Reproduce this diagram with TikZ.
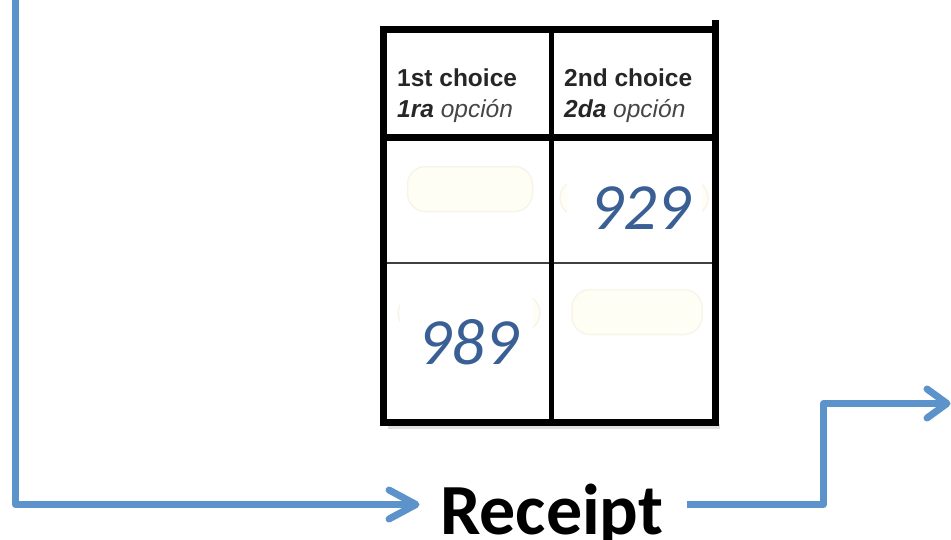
\documentclass[tikz,border=0pt]{standalone}
\usepackage{fontspec}
\setmainfont{Liberation Sans}
\newfontfamily\calib{Carlito}
\usetikzlibrary{arrows.meta}
\definecolor{flowblue}{RGB}{92,147,203}
\definecolor{numblue}{RGB}{58,95,148}
\definecolor{ghostfill}{RGB}{255,254,244}
\definecolor{ghostedge}{RGB}{247,245,234}
\definecolor{optgray}{RGB}{70,70,70}
\tikzset{
  flow/.style={draw=flowblue, line width=7pt, line join=round},
  chevron/.style={draw=flowblue, line width=7pt, line cap=round, line join=round},
  border/.style={draw=black, line width=7pt},
  thinrule/.style={draw=black!75, line width=2.5pt},
  midrule/.style={draw=black, line width=5pt},
  ghost/.style={draw=ghostedge, fill=ghostfill, line width=1.5pt, rounded corners=18pt},
  head/.style={anchor=base west, inner sep=0pt, font=\fontsize{24.5}{28}\selectfont\bfseries, text=black!85},
  num/.style={anchor=base west, inner sep=0pt, font=\calib\itshape\fontsize{66}{70}\selectfont, text=numblue},
}
\begin{document}
\begin{tikzpicture}[x=1pt,y=-1pt]
\useasboundingbox (0,0) rectangle (951,539);
% faint ghost boxes
\node[ghost, minimum width=125pt, minimum height=45pt] (g11) at (470,189) {};
\node[ghost, minimum width=130pt, minimum height=45pt] (g22) at (637,312) {};
\node[ghost, minimum width=148pt, minimum height=36pt] (g12) at (634,198) {};
\node[ghost, minimum width=142pt, minimum height=36pt] (g21) at (469,313) {};
\fill[white] (567,153) rectangle (702,240);
\fill[white] (400,288) rectangle (533,380);
% table
\fill[black!12] (388,424) rectangle (720,429);
\draw[thinrule] (383.5,263) -- (715.5,263);
\draw[midrule] (551,29) -- (551,422);
\draw[border] (383.5,137) -- (715.5,137);
\draw[border, line join=miter] (715.5,20) -- (715.5,422) -- (383.5,422) -- (383.5,29) -- (715.5,29);
% header texts
\node[head] (h1a) at (397,86) {1st choice};
\node[head, font=\fontsize{24.5}{28}\selectfont] (h1b) at (397,117) {\textbf{\textit{1ra}} \textcolor{optgray}{\textit{opción}}};
\node[head] (h2a) at (564,86) {2nd choice};
\node[head, font=\fontsize{24.5}{28}\selectfont] (h2b) at (564,117) {\textbf{\textit{2da}} \textcolor{optgray}{\textit{opción}}};
% numbers
\node[num] (n929) at (590,229) {929};
\node[num] (n989) at (418,364) {989};
% receipt
\node[anchor=base west, inner sep=0pt, font=\calib\bfseries\fontsize{72}{76}\selectfont] (rec) at (440,534) {Receipt};
% connectors
\coordinate (start) at (15.5,0);
\coordinate (intip) at (416,504.5);
\coordinate (outtip) at (947,403.5);
\draw[flow] (start) -- (15.5,504.5) -- (intip);
\draw[chevron] (389,490) -- (intip) -- (389,519);
\draw[flow] (rec.east |- 0,504.5) ++(23,0) coordinate (outstart) -- (823.5,504.5) -- (823.5,403.5) -- (outtip);
\draw[chevron] (927,389) -- (outtip) -- (927,418);
\end{tikzpicture}
\end{document}
